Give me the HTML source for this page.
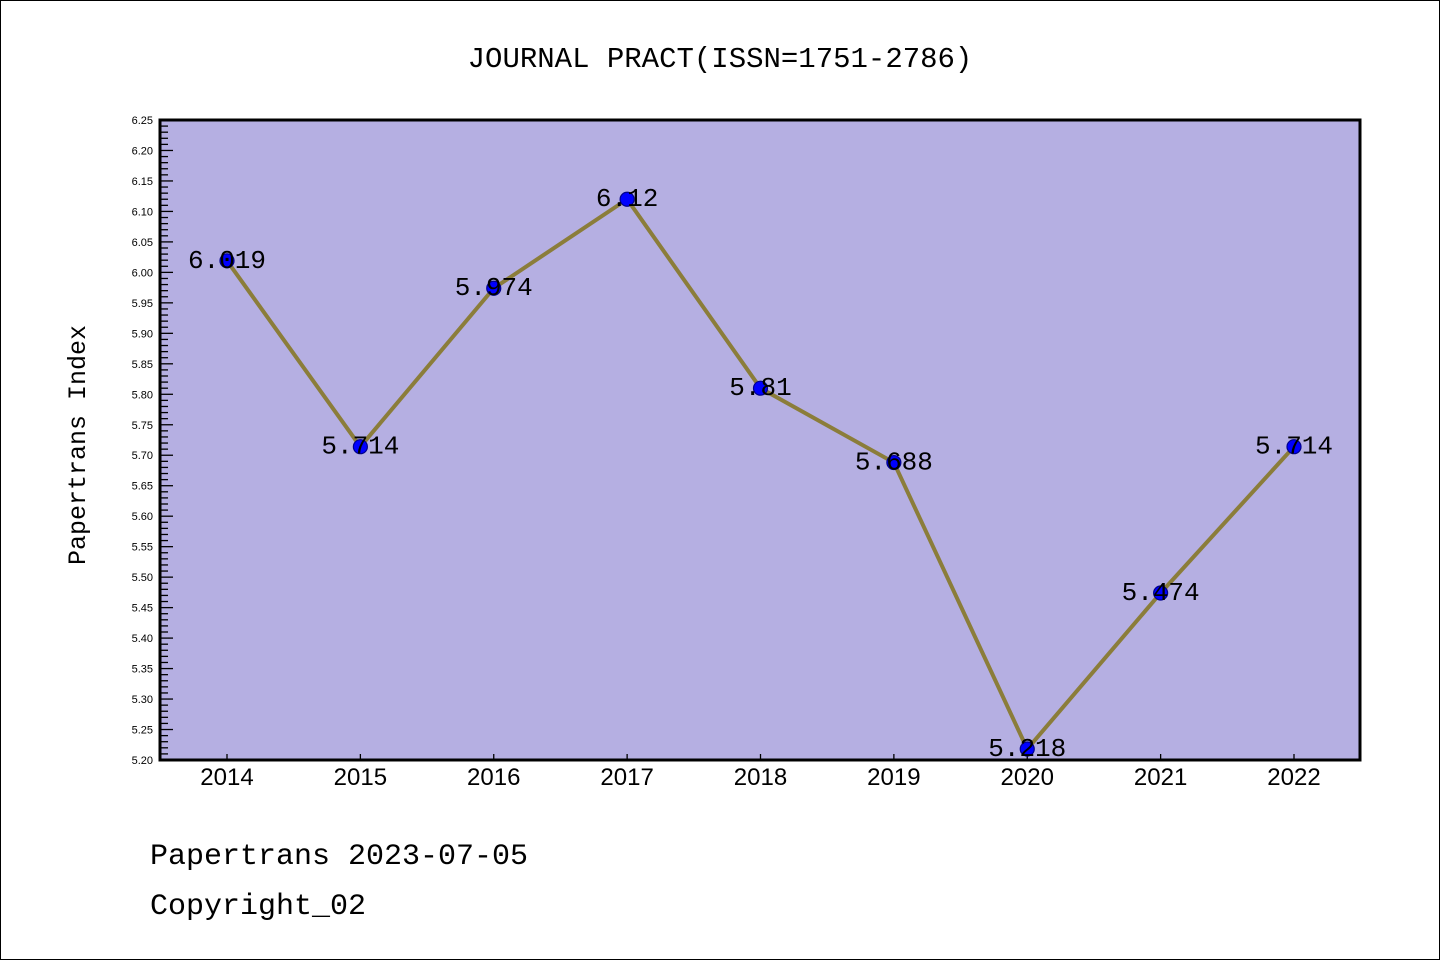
<!DOCTYPE html>
<html><head><meta charset="utf-8"><style>
body{margin:0;background:#fff}
svg{display:block}
</style></head><body>
<svg width="1440" height="960" xmlns="http://www.w3.org/2000/svg">
<rect x="0.5" y="0.5" width="1439" height="959" fill="#fff" stroke="#000"/>
<text x="720" y="67" text-anchor="middle" font-family="Liberation Mono, WenQuanYi Zen Hei, monospace" font-size="29">JOURNAL PRACT(ISSN=1751-2786)</text>
<rect x="160" y="120" width="1200" height="640" fill="#b5afe2"/>
<g id="yaxis"></g>
<g id="xaxis"></g>
<g id="series"></g>
<rect x="160" y="120" width="1200" height="640" fill="none" stroke="#000" stroke-width="3"/>
<text transform="translate(85,445) rotate(-90)" text-anchor="middle" font-family="Liberation Mono, monospace" font-size="25">Papertrans Index</text>
<text x="150" y="864" font-family="Liberation Mono, monospace" font-size="30">Papertrans 2023-07-05</text>
<text x="150" y="914" font-family="Liberation Mono, monospace" font-size="30">Copyright_02</text>
</svg>
<script>
const years=["2014","2015","2016","2017","2018","2019","2020","2021","2022"];
const values=[6.019,5.714,5.974,6.12,5.81,5.688,5.218,5.474,5.714];
const labels=["6.019","5.714","5.974","6.12","5.81","5.688","5.218","5.474","5.714"];
const yMin=5.20,yMax=6.25;
const NS="http://www.w3.org/2000/svg";
function X(i){return 227+i*(1294-227)/(years.length-1);}
function Y(v){return 760-(v-yMin)/(yMax-yMin)*640;}
function mk(t,a,p){const e=document.createElementNS(NS,t);for(const k in a)e.setAttribute(k,a[k]);p.appendChild(e);return e;}
const ya=document.getElementById('yaxis'),xa=document.getElementById('xaxis'),sr=document.getElementById('series');
for(let k=0;k<=105;k++){
  const v=yMin+k*0.01,y=Y(v),maj=k%5===0;
  const l=mk('line',{x1:160,x2:160+(maj?13:8),y1:y,y2:y,stroke:'#000','stroke-width':1.3},ya);
  
  
  if(maj){const t=mk('text',{x:153,y:y+4,'text-anchor':'end','font-family':'Liberation Sans, sans-serif','font-size':11},ya);t.textContent=v.toFixed(2);
  
  }
}
years.forEach((yr,i)=>{
  const x=X(i);
  const l=mk('line',{x1:x,x2:x,y1:760,y2:754,stroke:'#000','stroke-width':1.3},xa);
  
  
  const t=mk('text',{x:x,y:785,'text-anchor':'middle','font-family':'Liberation Sans, sans-serif','font-size':24},xa);t.textContent=yr;
  
  
});
const pl=mk('polyline',{points:values.map((v,i)=>X(i)+','+Y(v)).join(' '),fill:'none',stroke:'#8b7d3a','stroke-width':4,'stroke-linejoin':'round'},sr);


values.forEach((v,i)=>{
  const c=mk('circle',{cx:X(i),cy:Y(v),r:7,fill:'#0000ff',stroke:'#00008b','stroke-width':1.2},sr);
  
  
});
values.forEach((v,i)=>{
  const t=mk('text',{x:X(i),y:Y(v)+7,'text-anchor':'middle','font-family':'Liberation Mono, monospace','font-size':26},sr);t.textContent=labels[i];
  
  
});
</script>
</body></html>
